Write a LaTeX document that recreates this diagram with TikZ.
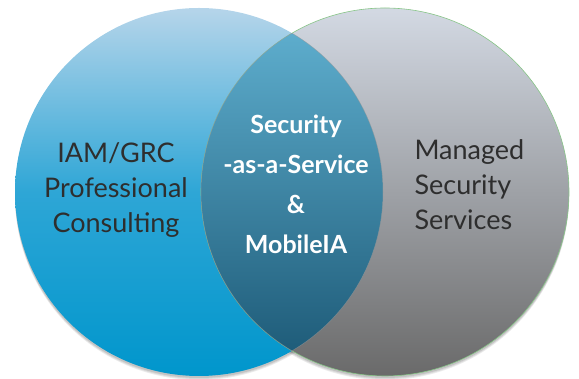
\documentclass[tikz,border=0pt]{standalone}
\usepackage{fontspec}
\setmainfont{Lato}
\usetikzlibrary{calc}
\definecolor{blueLight}{HTML}{B6D5EA}
\definecolor{blueMid}{HTML}{2EA6D6}
\definecolor{blueDeep}{HTML}{0096CC}
\definecolor{greyLight}{HTML}{D3D9E3}
\definecolor{greyDark}{HTML}{6A6A6A}
\definecolor{coreTop}{HTML}{62B3D3}
\definecolor{coreBottom}{HTML}{1A5673}
\definecolor{textDark}{HTML}{2E2E2E}
\tikzset{
  % Set circles and their labels
  set label/.style={text=textDark,font=\fontsize{27}{35}\selectfont},
  core label/.style={text=white,font=\bfseries\fontsize{25}{40}\selectfont,align=center},
  rim/.style={draw=green!35!gray!70,line width=0.6pt}
}

\begin{document}
\begin{tikzpicture}[x=1pt,y=1pt]
  \useasboundingbox (0,0) rectangle (579,379);
  \coordinate (L) at (199,187);
  \coordinate (R) at (385,187);
  % soft shadow
  \foreach \d/\o in {4/0.08,3/0.08,2/0.1}{
    \fill[black,opacity=\o] ($(L)+(0,-\d)$) circle (184);
    \fill[black,opacity=\o] ($(R)+(0,-\d)$) circle (184);
  }
  % The two sets
  \shade[shading angle=40,top color=blueLight,bottom color=blueDeep,middle color=blueMid] (L) circle (184);
  \shade[shading angle=35,top color=greyLight,bottom color=greyDark] (R) circle (184);
  \draw[rim] (R) circle (184);
  % the overlap
  \begin{scope}
    \clip (L) circle (184);
    \shade[shading angle=25,top color=coreTop,bottom color=coreBottom] (R) circle (184);
    \draw[black!40,opacity=0.6,line width=0.5pt] (R) circle (184);
  \end{scope}
  \begin{scope}
    \clip (R) circle (184);
    \draw[black!40,opacity=0.6,line width=0.5pt] (L) circle (184);
  \end{scope}
  % Labels
  \node(left)[set label,align=center] at (116,189) {IAM/GRC\\Professional\\Consulting};
  \node(right)[set label,align=left,anchor=west] at (411,194) {Managed\\Security\\Services};
  \node(core)[core label] at (296,195) {Security\\-as-a-Service\\\&\\MobileIA};
\end{tikzpicture}
\end{document}
